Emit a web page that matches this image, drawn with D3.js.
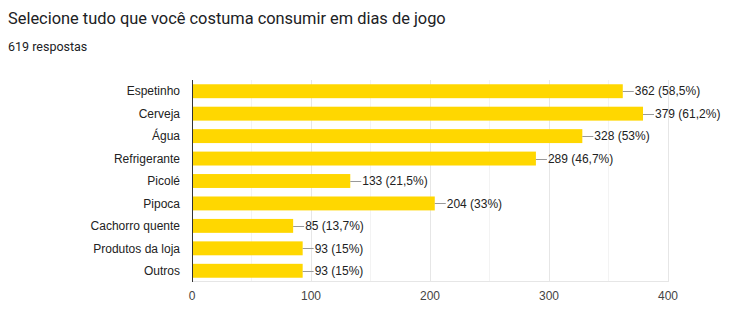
<!DOCTYPE html>
<html><head><meta charset="utf-8">
<script src="https://cdn.jsdelivr.net/npm/d3@7"></script>
<style>body{margin:0;background:#fff}</style>
</head><body>
<svg id="c" width="733" height="327"></svg>
<script>
const categories = ["Espetinho","Cerveja","Água","Refrigerante","Picolé","Pipoca","Cachorro quente","Produtos da loja","Outros"];
const values = [362,379,328,289,133,204,85,93,93];
const percents = ["58,5%","61,2%","53%","46,7%","21,5%","33%","13,7%","15%","15%"];
const ticks = [0,100,200,300,400];
const minorTicks = [50,150,250,350];

const svg = d3.select("#c");
svg.append("text").attr("x",8).attr("y",24).attr("font-family","Roboto").attr("font-size",16.4).attr("fill","#202124")
  .text("Selecione tudo que você costuma consumir em dias de jogo");
svg.append("text").attr("x",8).attr("y",51).attr("font-family","Roboto").attr("font-size",12.5).attr("fill","#202124")
  .text("619 respostas");

const x = d3.scaleLinear().domain([0,400]).range([192,668]);
const y = d3.scaleBand().domain(categories).range([80,282]).paddingInner(0.38).paddingOuter(0.19);

const g = svg.append("g");
g.selectAll("line.minor").data(minorTicks).join("line").attr("x1",d=>x(d)).attr("x2",d=>x(d)).attr("y1",80).attr("y2",282)
  .attr("stroke","#f3f3f3").attr("stroke-width",1);
g.selectAll("line.major").data(ticks.slice(1)).join("line").attr("x1",d=>x(d)+0.5).attr("x2",d=>x(d)+0.5).attr("y1",80).attr("y2",282)
  .attr("stroke","#e6e6e6").attr("stroke-width",1);
g.append("line").attr("x1",192).attr("x2",668).attr("y1",281.5).attr("y2",281.5).attr("stroke","#e6e6e6");

g.selectAll("rect").data(values).join("rect")
  .attr("x",x(0)).attr("y",(d,i)=>y(categories[i])).attr("width",d=>x(d)-x(0)).attr("height",y.bandwidth())
  .attr("fill","#ffd700");

g.append("line").attr("x1",192.5).attr("x2",192.5).attr("y1",80).attr("y2",282).attr("stroke","#333").attr("stroke-width",1);

g.selectAll("line.lead").data(values).join("line")
  .attr("x1",d=>x(d)).attr("x2",d=>x(d)+11)
  .attr("y1",(d,i)=>Math.round(y(categories[i])+y.bandwidth()/2)+0.5)
  .attr("y2",(d,i)=>Math.round(y(categories[i])+y.bandwidth()/2)+0.5)
  .attr("stroke","#999");

g.selectAll("text.val").data(values).join("text")
  .attr("x",d=>x(d)+12).attr("y",(d,i)=>y(categories[i])+y.bandwidth()/2)
  .attr("dy","0.35em").attr("font-family","Arial, Liberation Sans").attr("font-size",12).attr("fill","#222")
  .text((d,i)=>`${d} (${percents[i]})`);

g.selectAll("text.cat").data(categories).join("text")
  .attr("x",180).attr("y",d=>y(d)+y.bandwidth()/2).attr("dy","0.35em").attr("text-anchor","end")
  .attr("font-family","Arial, Liberation Sans").attr("font-size",12).attr("fill","#222").text(d=>d);

g.selectAll("text.tick").data(ticks).join("text")
  .attr("x",d=>x(d)).attr("y",300).attr("text-anchor","middle")
  .attr("font-family","Arial, Liberation Sans").attr("font-size",12).attr("fill","#444").text(d=>d);
</script>
</body></html>
